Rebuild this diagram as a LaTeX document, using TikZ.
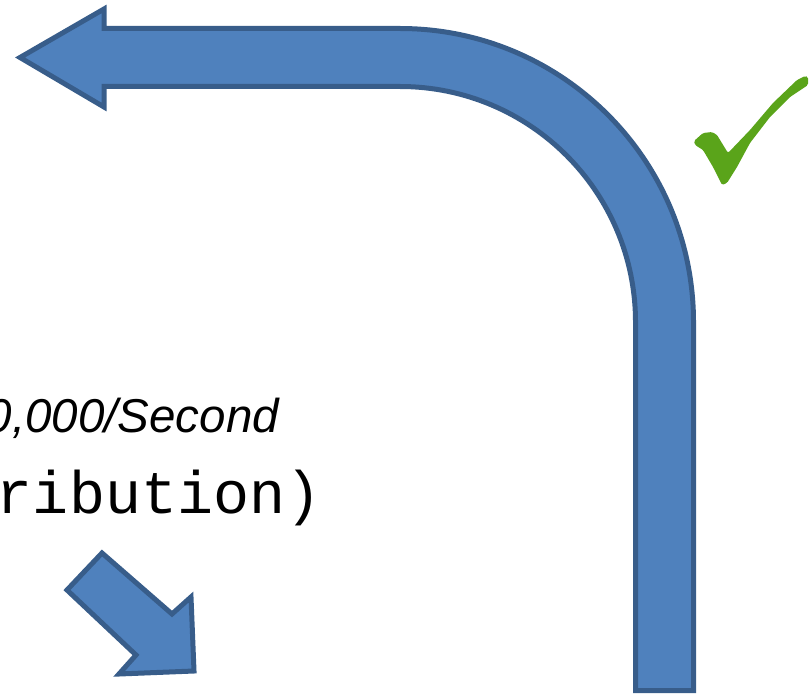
\documentclass[tikz,border=0pt]{standalone}
\usepackage{fontspec}
\setmainfont{Liberation Sans}
\newfontfamily\monofont{Liberation Mono}
\definecolor{arrowfill}{HTML}{4F81BD}
\definecolor{arrowline}{HTML}{385D8A}
\definecolor{checkgreen}{HTML}{5AA41A}
\begin{document}
\begin{tikzpicture}[x=1pt,y=1pt,
  blockarrow/.style={fill=arrowfill,draw=arrowline,line width=5pt,line join=miter},
  labeltext/.style={inner sep=0pt,outer sep=0pt}]
\useasboundingbox (0,0) rectangle (810,-695);
\clip (0,0) rectangle (810,-695);
% big bent arrow
\draw[blockarrow] (20,-57.5) -- (104,-9) -- (104,-28.5) -- (400,-28.5)
  arc[start angle=90,end angle=0,radius=293.5pt] -- (693.5,-690.5)
  -- (635.5,-690.5) -- (635.5,-322)
  arc[start angle=0,end angle=90,radius=235.5pt] -- (104,-86.5) -- (104,-107) -- cycle;
% small diagonal arrow
\draw[blockarrow] (102,-553) -- (172,-614) -- (191,-597) -- (194,-671) -- (119,-674) -- (136,-655) -- (67,-590) -- cycle;
% check mark
\fill[checkgreen,rounded corners=1.5pt] (694,-141) -- (703,-133) -- (712,-132) -- (717,-135) -- (728,-153)
  -- (750,-130) -- (773,-103) -- (797,-80) -- (805,-76) -- (808,-77) -- (808,-85)
  -- (790,-97) -- (770,-117) -- (750,-143) -- (737,-167) -- (727,-183) -- (722,-185)
  -- (713,-167) -- (703,-150) -- (695,-145) -- cycle;
% texts
\node[labeltext,anchor=base east,font=\fontsize{47.5}{50}\selectfont\itshape] (rate) at (279,-432) {0,000/Second};
\node[labeltext,anchor=base west,font=\fontsize{60}{64}\selectfont\monofont] (dist) at (-3,-513) {ribution)};
\end{tikzpicture}
\end{document}
